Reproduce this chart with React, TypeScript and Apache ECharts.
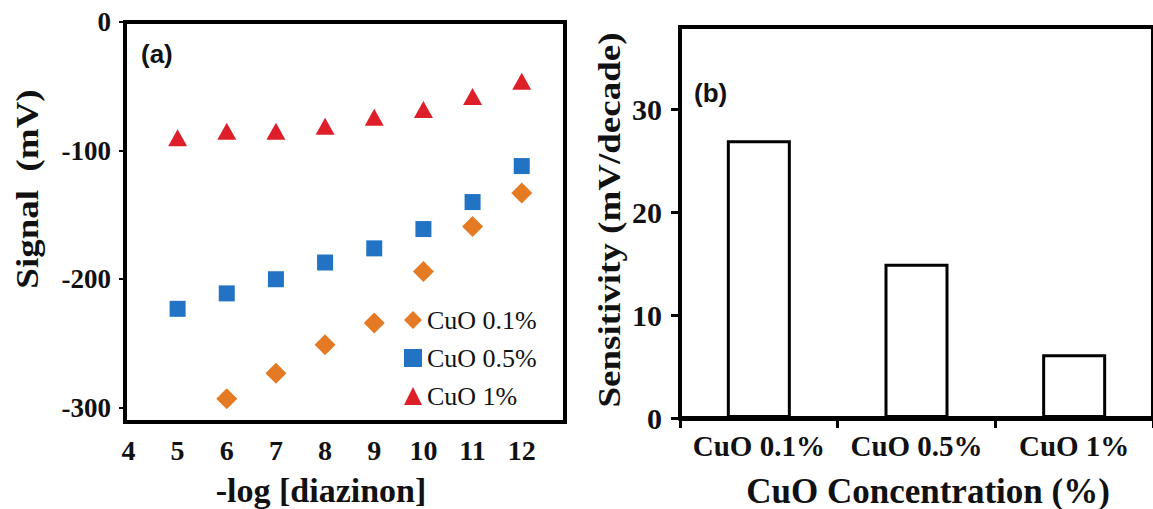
import React, { useEffect, useRef } from "react";
import * as echarts from "echarts";

// ---- data ----
const xTicks = [4, 5, 6, 7, 8, 9, 10, 11, 12];
const yTicksA = [0, -100, -200, -300];
const xCuO01 = [6, 7, 8, 9, 10, 11, 12];
const signalCuO01 = [-293, -273, -251, -234, -194, -159, -133];
const xCuO05 = [5, 6, 7, 8, 9, 10, 11, 12];
const signalCuO05 = [-223, -211, -200, -187, -176, -161, -140, -112];
const xCuO1 = [5, 6, 7, 8, 9, 10, 11, 12];
const signalCuO1 = [-90, -85, -85, -81, -74, -68, -58, -46];

const categories = ["CuO 0.1%", "CuO 0.5%", "CuO 1%"];
const sensitivity = [27, 15, 6.2];
const yTicksB = [0, 10, 20, 30];

const SERIF = "'Liberation Serif', 'Times New Roman', serif";
const SANS = "'Liberation Sans', Arial, sans-serif";
const INK = "#111";

const pairs = (xs: number[], ys: number[]) => xs.map((x, i) => [x, ys[i]]);

export default function App() {
  const ref = useRef<HTMLDivElement>(null);
  useEffect(() => {
    if (!ref.current) return;
    const chart = echarts.init(ref.current, undefined, { renderer: "svg" });
    const tickLabel = (size: number) => ({
      fontFamily: SERIF,
      fontWeight: "bold" as const,
      fontSize: size,
      color: INK,
    });
    chart.setOption({
      animation: false,
      backgroundColor: "#fff",
      grid: [
        { left: 125, top: 22, width: 440, height: 400, show: true, borderColor: "#000", borderWidth: 4 },
        { left: 680, top: 27, width: 480, height: 391, show: true, borderColor: "#000", borderWidth: 4 },
      ],
      xAxis: [
        {
          type: "value",
          gridIndex: 0,
          min: 3.93,
          max: 12.88,
          axisLine: { show: false },
          axisTick: { show: false },
          splitLine: { show: false },
          axisLabel: { ...tickLabel(28), margin: 14, customValues: xTicks },
        },
        {
          type: "category",
          gridIndex: 1,
          data: categories,
          axisLine: { show: true, lineStyle: { color: "#000", width: 5 } },
          axisTick: { show: true, length: 10, lineStyle: { color: "#000", width: 3 } },
          axisLabel: { ...tickLabel(29), margin: 13, interval: 0, hideOverlap: false },
        },
      ],
      yAxis: [
        {
          type: "value",
          gridIndex: 0,
          min: -311,
          max: 0,
          axisLine: { show: false },
          splitLine: { show: false },
          axisTick: { show: true, length: 6, customValues: yTicksA, lineStyle: { color: "#000", width: 2 } },
          axisLabel: { ...tickLabel(27), margin: 14, customValues: yTicksA },
        },
        {
          type: "value",
          gridIndex: 1,
          min: 0,
          max: 38,
          axisLine: { show: false },
          splitLine: { show: false },
          axisTick: { show: true, length: 9, customValues: yTicksB, lineStyle: { color: "#000", width: 3 } },
          axisLabel: { ...tickLabel(30), margin: 18, customValues: yTicksB },
        },
      ],
      legend: {
        orient: "vertical",
        left: 399,
        top: 302,
        itemGap: 12,
        itemWidth: 18,
        itemHeight: 18,
        textStyle: { fontFamily: SERIF, fontSize: 26, color: INK },
        data: ["CuO 0.1%", "CuO 0.5%", "CuO 1%"],
      },
      series: [
        {
          name: "CuO 0.1%",
          type: "scatter",
          xAxisIndex: 0,
          yAxisIndex: 0,
          symbol: "diamond",
          symbolSize: 21,
          itemStyle: { color: "#E57A25", opacity: 1 },
          data: pairs(xCuO01, signalCuO01),
        },
        {
          name: "CuO 0.5%",
          type: "scatter",
          xAxisIndex: 0,
          yAxisIndex: 0,
          symbol: "rect",
          symbolSize: 16,
          itemStyle: { color: "#2273C3", opacity: 1 },
          data: pairs(xCuO05, signalCuO05),
        },
        {
          name: "CuO 1%",
          type: "scatter",
          xAxisIndex: 0,
          yAxisIndex: 0,
          symbol: "triangle",
          symbolSize: [19, 17],
          itemStyle: { color: "#DE1F2A", opacity: 1 },
          data: pairs(xCuO1, signalCuO1),
        },
        {
          name: "Sensitivity",
          type: "bar",
          xAxisIndex: 1,
          yAxisIndex: 1,
          barWidth: 64,
          itemStyle: { color: "#fff", borderColor: "#000", borderWidth: 3 },
          data: sensitivity,
        },
      ],
      graphic: [
        {
          type: "text",
          left: 141,
          top: 41,
          style: { text: "(a)", font: `bold 26px ${SANS}`, fill: INK },
        },
        {
          type: "text",
          left: 694,
          top: 80,
          style: { text: "(b)", font: `bold 26px ${SANS}`, fill: INK },
        },
        {
          type: "text",
          x: 27,
          y: 189,
          rotation: Math.PI / 2,
          scaleY: 0.85,
          style: { text: "Signal  (mV)", font: `bold 37px ${SERIF}`, fill: INK, align: "center", verticalAlign: "middle" },
        },
        {
          type: "text",
          x: 609,
          y: 220,
          rotation: Math.PI / 2,
          scaleY: 0.85,
          style: { text: "Sensitivity (mV/decade)", font: `bold 37px ${SERIF}`, fill: INK, align: "center", verticalAlign: "middle" },
        },
        {
          type: "text",
          x: 321,
          y: 490,
          style: { text: "-log [diazinon]", font: `bold 34px ${SERIF}`, fill: INK, align: "center", verticalAlign: "middle" },
        },
        {
          type: "text",
          x: 928,
          y: 491,
          style: { text: "CuO Concentration (%)", font: `bold 35px ${SERIF}`, fill: INK, align: "center", verticalAlign: "middle" },
        },
      ],
    });
    return () => chart.dispose();
  }, []);
  return (
    <div style={{ position: "fixed", left: 0, top: 0, width: 1153, height: 509, overflow: "hidden", background: "#fff" }}>
      <div ref={ref} style={{ width: 1153, height: 509 }} />
    </div>
  );
}
